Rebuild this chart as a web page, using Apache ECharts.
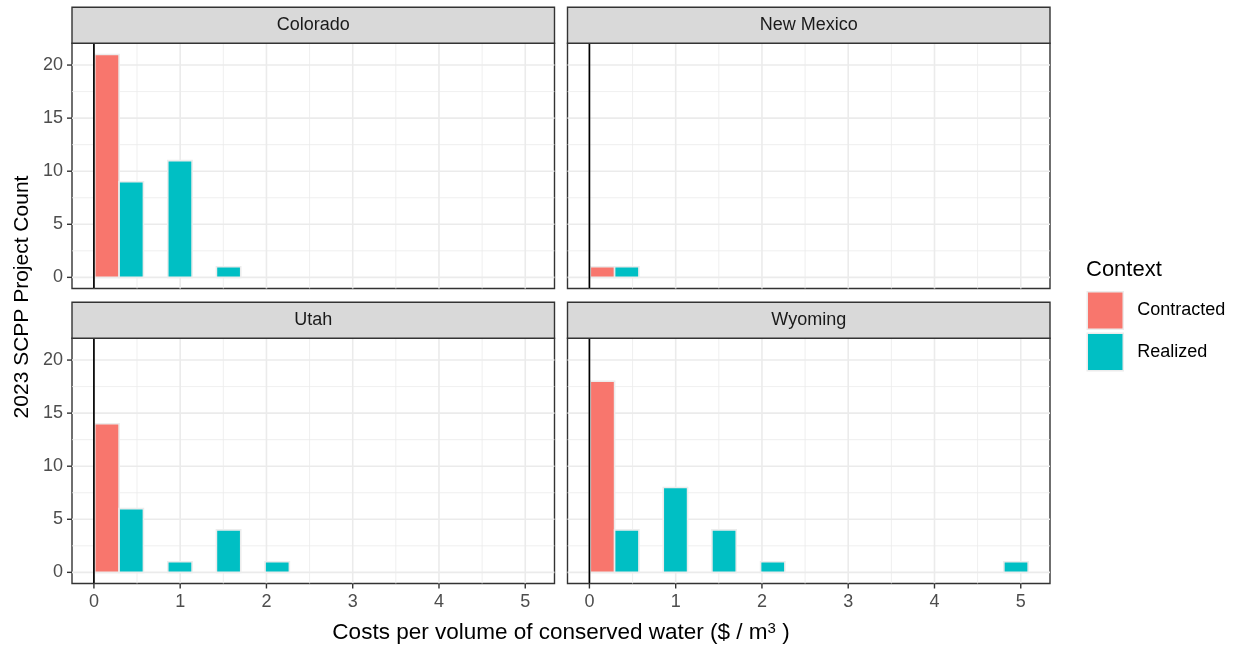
<!DOCTYPE html>
<html>
<head>
<meta charset="utf-8">
<script src="https://cdn.jsdelivr.net/npm/echarts@6/dist/echarts.min.js"></script>
<style>
  html, body { margin: 0; padding: 0; background: #ffffff; }
  #chart { width: 1234px; height: 646px; }
</style>
</head>
<body>
<div id="chart"></div>
<script>
// ---- data -------------------------------------------------------------
const states = ['Colorado', 'New Mexico', 'Utah', 'Wyoming'];
const contexts = ['Contracted', 'Realized'];

// histogram bins of cost per volume ($ / m3): first edge and bin width
const binStart = 0.01;
const binWidth = 0.564;

// project counts per bin
const coloradoContracted  = [21, 0, 0, 0, 0, 0, 0, 0, 0];
const coloradoRealized    = [9, 11, 1, 0, 0, 0, 0, 0, 0];
const newMexicoContracted = [1, 0, 0, 0, 0, 0, 0, 0, 0];
const newMexicoRealized   = [1, 0, 0, 0, 0, 0, 0, 0, 0];
const utahContracted      = [14, 0, 0, 0, 0, 0, 0, 0, 0];
const utahRealized        = [6, 1, 4, 1, 0, 0, 0, 0, 0];
const wyomingContracted   = [18, 0, 0, 0, 0, 0, 0, 0, 0];
const wyomingRealized     = [4, 8, 4, 1, 0, 0, 0, 0, 1];

// axis ticks and limits
const xTicks = [0, 1, 2, 3, 4, 5];
const yTicks = [0, 5, 10, 15, 20];
const xLimits = [-0.254, 5.339];
const yLimits = [-1.05, 22.05];

// ---- styling ----------------------------------------------------------
const FONT = 'Liberation Sans, Arial, Helvetica, sans-serif';
const colors = { Contracted: '#F8766D', Realized: '#00BFC4' };
const GRID_MAJOR = '#EBEBEB';
const BORDER = '#333333';

const panelLefts = [72, 567.5];
const panelWidth = 482.5;
const panelTops = [43.3, 338.3];
const panelHeight = 245.2;
const stripHeight = 36;

const panels = [
  { state: states[0], row: 0, col: 0, counts: [coloradoContracted, coloradoRealized] },
  { state: states[1], row: 0, col: 1, counts: [newMexicoContracted, newMexicoRealized] },
  { state: states[2], row: 1, col: 0, counts: [utahContracted, utahRealized] },
  { state: states[3], row: 1, col: 1, counts: [wyomingContracted, wyomingRealized] }
];

// minor grid positions halfway between major ticks
function midpoints(ticks) {
  const out = [];
  for (let i = 0; i < ticks.length - 1; i++) out.push((ticks[i] + ticks[i + 1]) / 2);
  return out;
}
const xMinor = midpoints(xTicks);
const yMinor = midpoints(yTicks);

// kinds: 0 x major, 1 x minor, 2 y major, 3 y minor
const gridData = []
  .concat(xMinor.map(v => [v, 1]))
  .concat(yMinor.map(v => [v, 3]))
  .concat(xTicks.map(v => [v, 0]))
  .concat(yTicks.map(v => [v, 2]));

function gridRenderer(showXTicks, showYTicks) {
  return function (params, api) {
    const cs = params.coordSys;
    const v = api.value(0);
    const kind = api.value(1);
    const children = [];
    if (kind <= 1) {
      const x = api.coord([v, 0])[0];
      children.push({
        type: 'line',
        shape: { x1: x, y1: cs.y, x2: x, y2: cs.y + cs.height },
        style: { stroke: GRID_MAJOR, lineWidth: kind === 0 ? 1.6 : 0.8 }
      });
      if (kind === 0 && showXTicks) {
        children.push({
          type: 'line',
          shape: { x1: x, y1: cs.y + cs.height, x2: x, y2: cs.y + cs.height + 5 },
          style: { stroke: BORDER, lineWidth: 1.4 }
        });
      }
    } else {
      const y = api.coord([0, v])[1];
      children.push({
        type: 'line',
        shape: { x1: cs.x, y1: y, x2: cs.x + cs.width, y2: y },
        style: { stroke: GRID_MAJOR, lineWidth: kind === 2 ? 1.6 : 0.8 }
      });
      if (kind === 2 && showYTicks) {
        children.push({
          type: 'line',
          shape: { x1: cs.x - 5, y1: y, x2: cs.x, y2: y },
          style: { stroke: BORDER, lineWidth: 1.4 }
        });
      }
    }
    return { type: 'group', children: children };
  };
}

function barRenderer(ctxIndex) {
  return function (params, api) {
    const bin = api.value(0);
    const count = api.value(1);
    if (!(count > 0)) return null;
    const x0 = binStart + bin * binWidth + ctxIndex * binWidth / 2;
    const x1 = x0 + binWidth / 2;
    const p0 = api.coord([x0, 0]);
    const p1 = api.coord([x1, count]);
    return {
      type: 'rect',
      shape: { x: p0[0], y: p1[1], width: p1[0] - p0[0], height: p0[1] - p1[1] },
      style: { fill: colors[contexts[ctxIndex]], stroke: '#ECECEC', lineWidth: 1.6 }
    };
  };
}

function vlineRenderer(params, api) {
  const cs = params.coordSys;
  const x = api.coord([api.value(0), 0])[0];
  return {
    type: 'line',
    shape: { x1: x, y1: cs.y, x2: x, y2: cs.y + cs.height },
    style: { stroke: '#000000', lineWidth: 1.7 }
  };
}

const grids = [], xAxes = [], yAxes = [], series = [], graphics = [];

panels.forEach((p, i) => {
  const left = panelLefts[p.col];
  const top = panelTops[p.row];
  const bottomRow = p.row === 1;
  const leftCol = p.col === 0;

  grids.push({
    left: left, top: top, width: panelWidth, height: panelHeight,
    show: true, backgroundColor: '#ffffff', borderColor: BORDER, borderWidth: 1.4,
    containLabel: false
  });

  xAxes.push({
    type: 'value', gridIndex: i, min: xLimits[0], max: xLimits[1],
    axisLine: { show: false }, axisTick: { show: false }, splitLine: { show: false },
    axisLabel: {
      show: bottomRow, color: '#4D4D4D', fontSize: 18, fontFamily: FONT, margin: 10,
      showMinLabel: false, showMaxLabel: false,
      formatter: v => (xTicks.indexOf(v) >= 0 ? String(v) : '')
    }
  });

  yAxes.push({
    type: 'value', gridIndex: i, min: yLimits[0], max: yLimits[1],
    axisLine: { show: false }, axisTick: { show: false }, splitLine: { show: false },
    axisLabel: {
      show: leftCol, color: '#4D4D4D', fontSize: 18, fontFamily: FONT, margin: 9,
      showMinLabel: false, showMaxLabel: false,
      formatter: v => (yTicks.indexOf(v) >= 0 ? String(v) : '')
    }
  });

  series.push({
    type: 'custom', name: 'grid', xAxisIndex: i, yAxisIndex: i, z: 1,
    silent: true, renderItem: gridRenderer(bottomRow, leftCol), data: gridData
  });

  contexts.forEach((ctx, ci) => {
    series.push({
      type: 'custom', name: ctx, xAxisIndex: i, yAxisIndex: i, z: 2,
      itemStyle: { color: colors[ctx] },
      renderItem: barRenderer(ci),
      data: p.counts[ci].map((c, b) => [b, c])
    });
  });

  series.push({
    type: 'custom', name: 'zero', xAxisIndex: i, yAxisIndex: i, z: 3,
    silent: true, renderItem: vlineRenderer, data: [[0, 0]]
  });

  // facet strip
  graphics.push({
    type: 'rect',
    shape: { x: left, y: top - stripHeight, width: panelWidth, height: stripHeight },
    style: { fill: '#D9D9D9', stroke: BORDER, lineWidth: 1.4 },
    z: 10
  });
  graphics.push({
    type: 'text',
    style: {
      text: p.state, x: left + panelWidth / 2, y: top - stripHeight / 2,
      fontSize: 18, fontFamily: FONT, fill: '#1A1A1A',
      align: 'center', verticalAlign: 'middle',
      textAlign: 'center', textVerticalAlign: 'middle'
    },
    z: 11
  });
});

// axis titles
graphics.push({
  type: 'text',
  style: {
    text: 'Costs per volume of conserved water ($ / m{sup|3} )',
    x: 561, y: 633,
    fontSize: 22.5, fontFamily: FONT, fill: '#000000',
    align: 'center', verticalAlign: 'middle',
    textAlign: 'center', textVerticalAlign: 'middle',
    rich: { sup: { fontSize: 15, fontFamily: FONT, verticalAlign: 'top', fill: '#000000' } }
  }
});
graphics.push({
  type: 'text',
  x: 22.5, y: 297, rotation: Math.PI / 2,
  style: {
    text: '2023 SCPP Project Count', x: 0, y: 0,
    fontSize: 21, fontFamily: FONT, fill: '#000000',
    align: 'center', verticalAlign: 'middle',
    textAlign: 'center', textVerticalAlign: 'middle'
  }
});
// legend title
graphics.push({
  type: 'text',
  style: {
    text: 'Context', x: 1086, y: 270,
    fontSize: 22, fontFamily: FONT, fill: '#000000',
    align: 'left', verticalAlign: 'middle',
    textAlign: 'left', textVerticalAlign: 'middle'
  }
});

const chart = echarts.init(document.getElementById('chart'), null, { renderer: 'canvas' });
chart.setOption({
  animation: false,
  backgroundColor: '#ffffff',
  textStyle: { fontFamily: FONT },
  grid: grids,
  xAxis: xAxes,
  yAxis: yAxes,
  legend: {
    data: contexts,
    orient: 'vertical',
    left: 1086.5, top: 291,
    padding: 0,
    itemWidth: 36, itemHeight: 37.5, itemGap: 2.5,
    icon: 'rect',
    selectedMode: false,
    itemStyle: { borderColor: '#ECECEC', borderWidth: 1.5 },
    textStyle: { fontSize: 18, fontFamily: FONT, color: '#000000', padding: [0, 0, 0, 9] }
  },
  graphic: graphics,
  series: series
});
</script>
</body>
</html>
